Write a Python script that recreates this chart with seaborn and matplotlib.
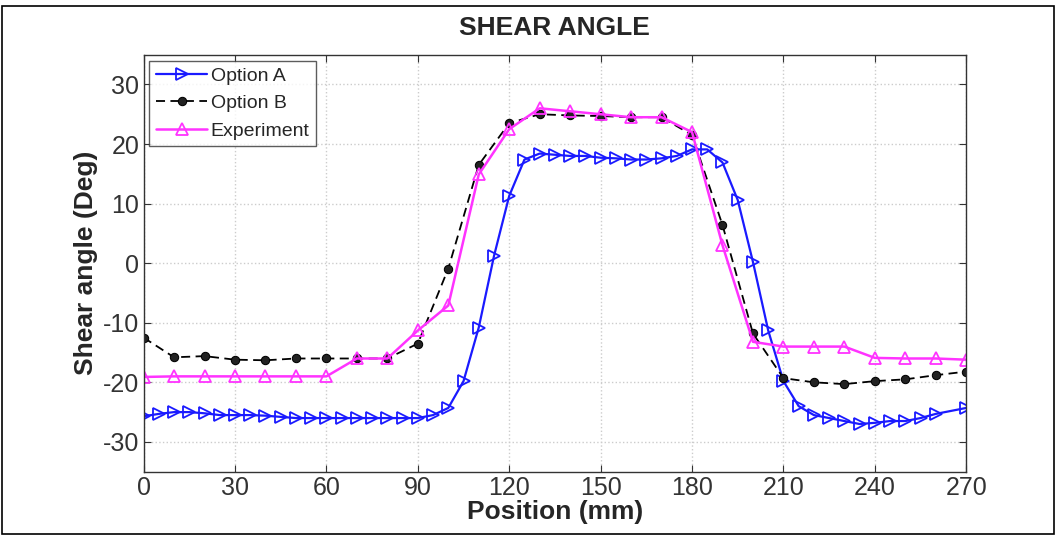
import matplotlib
matplotlib.use("Agg")
import matplotlib.pyplot as plt
import pandas as pd
import seaborn as sns
from matplotlib.patches import Rectangle

# Option A: every 5 mm from 0 to 260, then 270
POS_A = list(range(0, 265, 5)) + [270]
OPTION_A = [
    -25.7, -25.3, -25.0, -25.0, -25.2, -25.5, -25.5, -25.5, -25.6, -25.8,
    -26.0, -26.0, -26.0, -26.0, -26.0, -26.0, -26.0, -26.0, -26.0, -25.5,
    -24.3, -19.8, -10.8, 1.2, 11.3, 17.4, 18.4, 18.2, 18.0, 18.0,
    17.7, 17.6, 17.4, 17.4, 17.6, 18.0, 19.1, 19.1, 16.9, 10.6,
    0.2, -11.3, -19.8, -24.0, -25.5, -26.0, -26.5, -27.0, -26.8, -26.5,
    -26.5, -26.0, -25.3, -24.3,
]

# Option B and experiment: every 10 mm from 0 to 270
POS_10 = list(range(0, 280, 10))
OPTION_B = [
    -12.5, -15.8, -15.6, -16.2, -16.3, -16.0, -16.0, -16.0, -16.0, -13.5,
    -0.9, 16.5, 23.5, 25.0, 24.8, 24.7, 24.5, 24.5, 21.5, 6.4,
    -11.8, -19.3, -20.0, -20.3, -19.8, -19.5, -18.8, -18.2,
]
EXPERIMENT = [
    -19.1, -19.0, -19.0, -19.0, -19.0, -19.0, -19.0, -16.0, -16.0, -11.3,
    -7.1, 14.9, 22.5, 26.0, 25.5, 25.0, 24.5, 24.5, 22.0, 3.0,
    -13.2, -14.0, -14.0, -14.0, -15.9, -16.0, -16.0, -16.2,
]

X_TICKS = list(range(0, 300, 30))
Y_TICKS = list(range(-30, 40, 10))

sns.set_style("white")
plt.rcParams["font.family"] = ["Liberation Sans", "DejaVu Sans"]
plt.rcParams["axes.unicode_minus"] = False

df_a = pd.DataFrame({"pos": POS_A, "angle": OPTION_A})
df_b = pd.DataFrame({"pos": POS_10, "angle": OPTION_B})
df_e = pd.DataFrame({"pos": POS_10, "angle": EXPERIMENT})

fig = plt.figure(figsize=(10.56, 5.36), dpi=100)
ax = fig.add_axes([0.136, 0.12, 0.779, 0.778])

sns.lineplot(data=df_a, x="pos", y="angle", ax=ax, color="#1a1aff",
             marker=">", markersize=8, markerfacecolor="none",
             markeredgecolor="#1a1aff", markeredgewidth=1.3,
             linewidth=1.6, label="Option A")
sns.lineplot(data=df_b, x="pos", y="angle", ax=ax, color="black",
             marker="o", markersize=6, markerfacecolor="#222222",
             markeredgecolor="black", linewidth=1.3,
             linestyle=(0, (5, 3)), label="Option B")
sns.lineplot(data=df_e, x="pos", y="angle", ax=ax, color="#ff33ff",
             marker="^", markersize=8, markerfacecolor="none",
             markeredgecolor="#ff33ff", markeredgewidth=1.3,
             linewidth=1.8, label="Experiment")

ax.set_xlim(0, 270)
ax.set_ylim(-35, 35)
ax.set_xticks(X_TICKS)
ax.set_yticks(Y_TICKS)
ax.grid(True, color="#cccccc", linestyle=":", linewidth=1.0)
ax.tick_params(axis="both", labelsize=18, direction="in", length=5, pad=3,
               colors="#333333", left=True, bottom=True, right=True, top=True)
for s in ax.spines.values():
    s.set_color("#333333")
    s.set_linewidth(1.0)

ax.set_title("SHEAR ANGLE", fontsize=19, fontweight="bold", pad=14)
ax.set_xlabel("Position (mm)", fontsize=19, fontweight="bold", labelpad=0)
ax.set_ylabel("Shear angle (Deg)", fontsize=19, fontweight="bold", labelpad=4)

leg = ax.legend(loc="upper left", fontsize=14, frameon=True, fancybox=False,
                handlelength=2.6, handletextpad=0.2, borderpad=0.35,
                labelspacing=0.5, borderaxespad=0.3)
leg.get_frame().set_edgecolor("#333333")
leg.get_frame().set_linewidth(1.0)

fig.patches.append(Rectangle((0.002, 0.004), 0.996, 0.984,
                             transform=fig.transFigure, fill=False,
                             edgecolor="black", linewidth=1.2))

fig.savefig("out.png", dpi=100)
